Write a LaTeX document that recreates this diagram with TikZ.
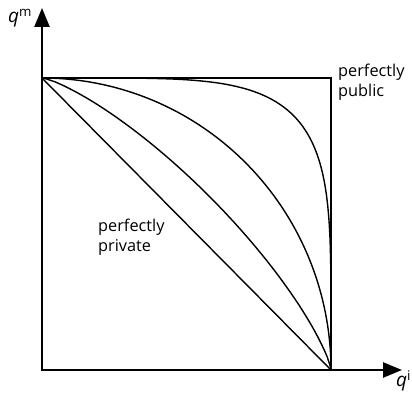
\documentclass[tikz,border=0pt]{standalone}
\usepackage{fontspec}
\setmainfont{Open Sans}
\usetikzlibrary{arrows.meta, positioning}

\begin{document}
\begin{tikzpicture}[
    x=1pt, y=1pt,
    axis/.style = {line width=2.5pt, -{Triangle[length=19pt, width=15pt]}},
    frame/.style = {line width=1.2pt},
    curve/.style = {line width=1.4pt, line join=round},
    label/.style = {font=\fontsize{16.3}{20}\selectfont, align=left, inner sep=0pt, anchor=north west},
    axlabel/.style = {font=\fontsize{19}{20}\selectfont, inner sep=0pt, anchor=base west},
]
\useasboundingbox (0,0) rectangle (412,395);

%% ---- Frame ----
\coordinate (O)  at (42, 25);
\coordinate (TL) at (42, 317);
\coordinate (TR) at (331, 317);
\coordinate (BR) at (331, 25);
\draw[frame] (TL) -- (TR) -- (BR);

%% ---- Curves between the two corners ----
\begin{scope}[shift={(O)}, x=289pt, y=292pt]
  \draw[curve] (0,1) -- (1,0);
  \foreach \p in {1.3, 2, 5} {
    \draw[curve] plot[domain=0:90, samples=200, smooth]
      ({pow(abs(cos(\x)),2/\p)}, {pow(abs(sin(\x)),2/\p)});
  }
\end{scope}

%% ---- Axes ----
\coordinate (ytip) at (42, 387);
\coordinate (xtip) at (402, 25);
\draw[axis] ([yshift=-1.25pt]O) -- (ytip);
\draw[axis] ([xshift=-1.25pt]O) -- (xtip);
\node[axlabel] (qm) at (8, 372) {\textit{q}\textsuperscript{m}};
\node[axlabel] (qi) at (396, 8) {\textit{q}\textsuperscript{i}};

%% ---- Labels ----
\node[label] (pub) at (338, 331) {perfectly\\public};
\node[label] (priv) at (98, 176) {perfectly\\private};

\end{tikzpicture}
\end{document}
